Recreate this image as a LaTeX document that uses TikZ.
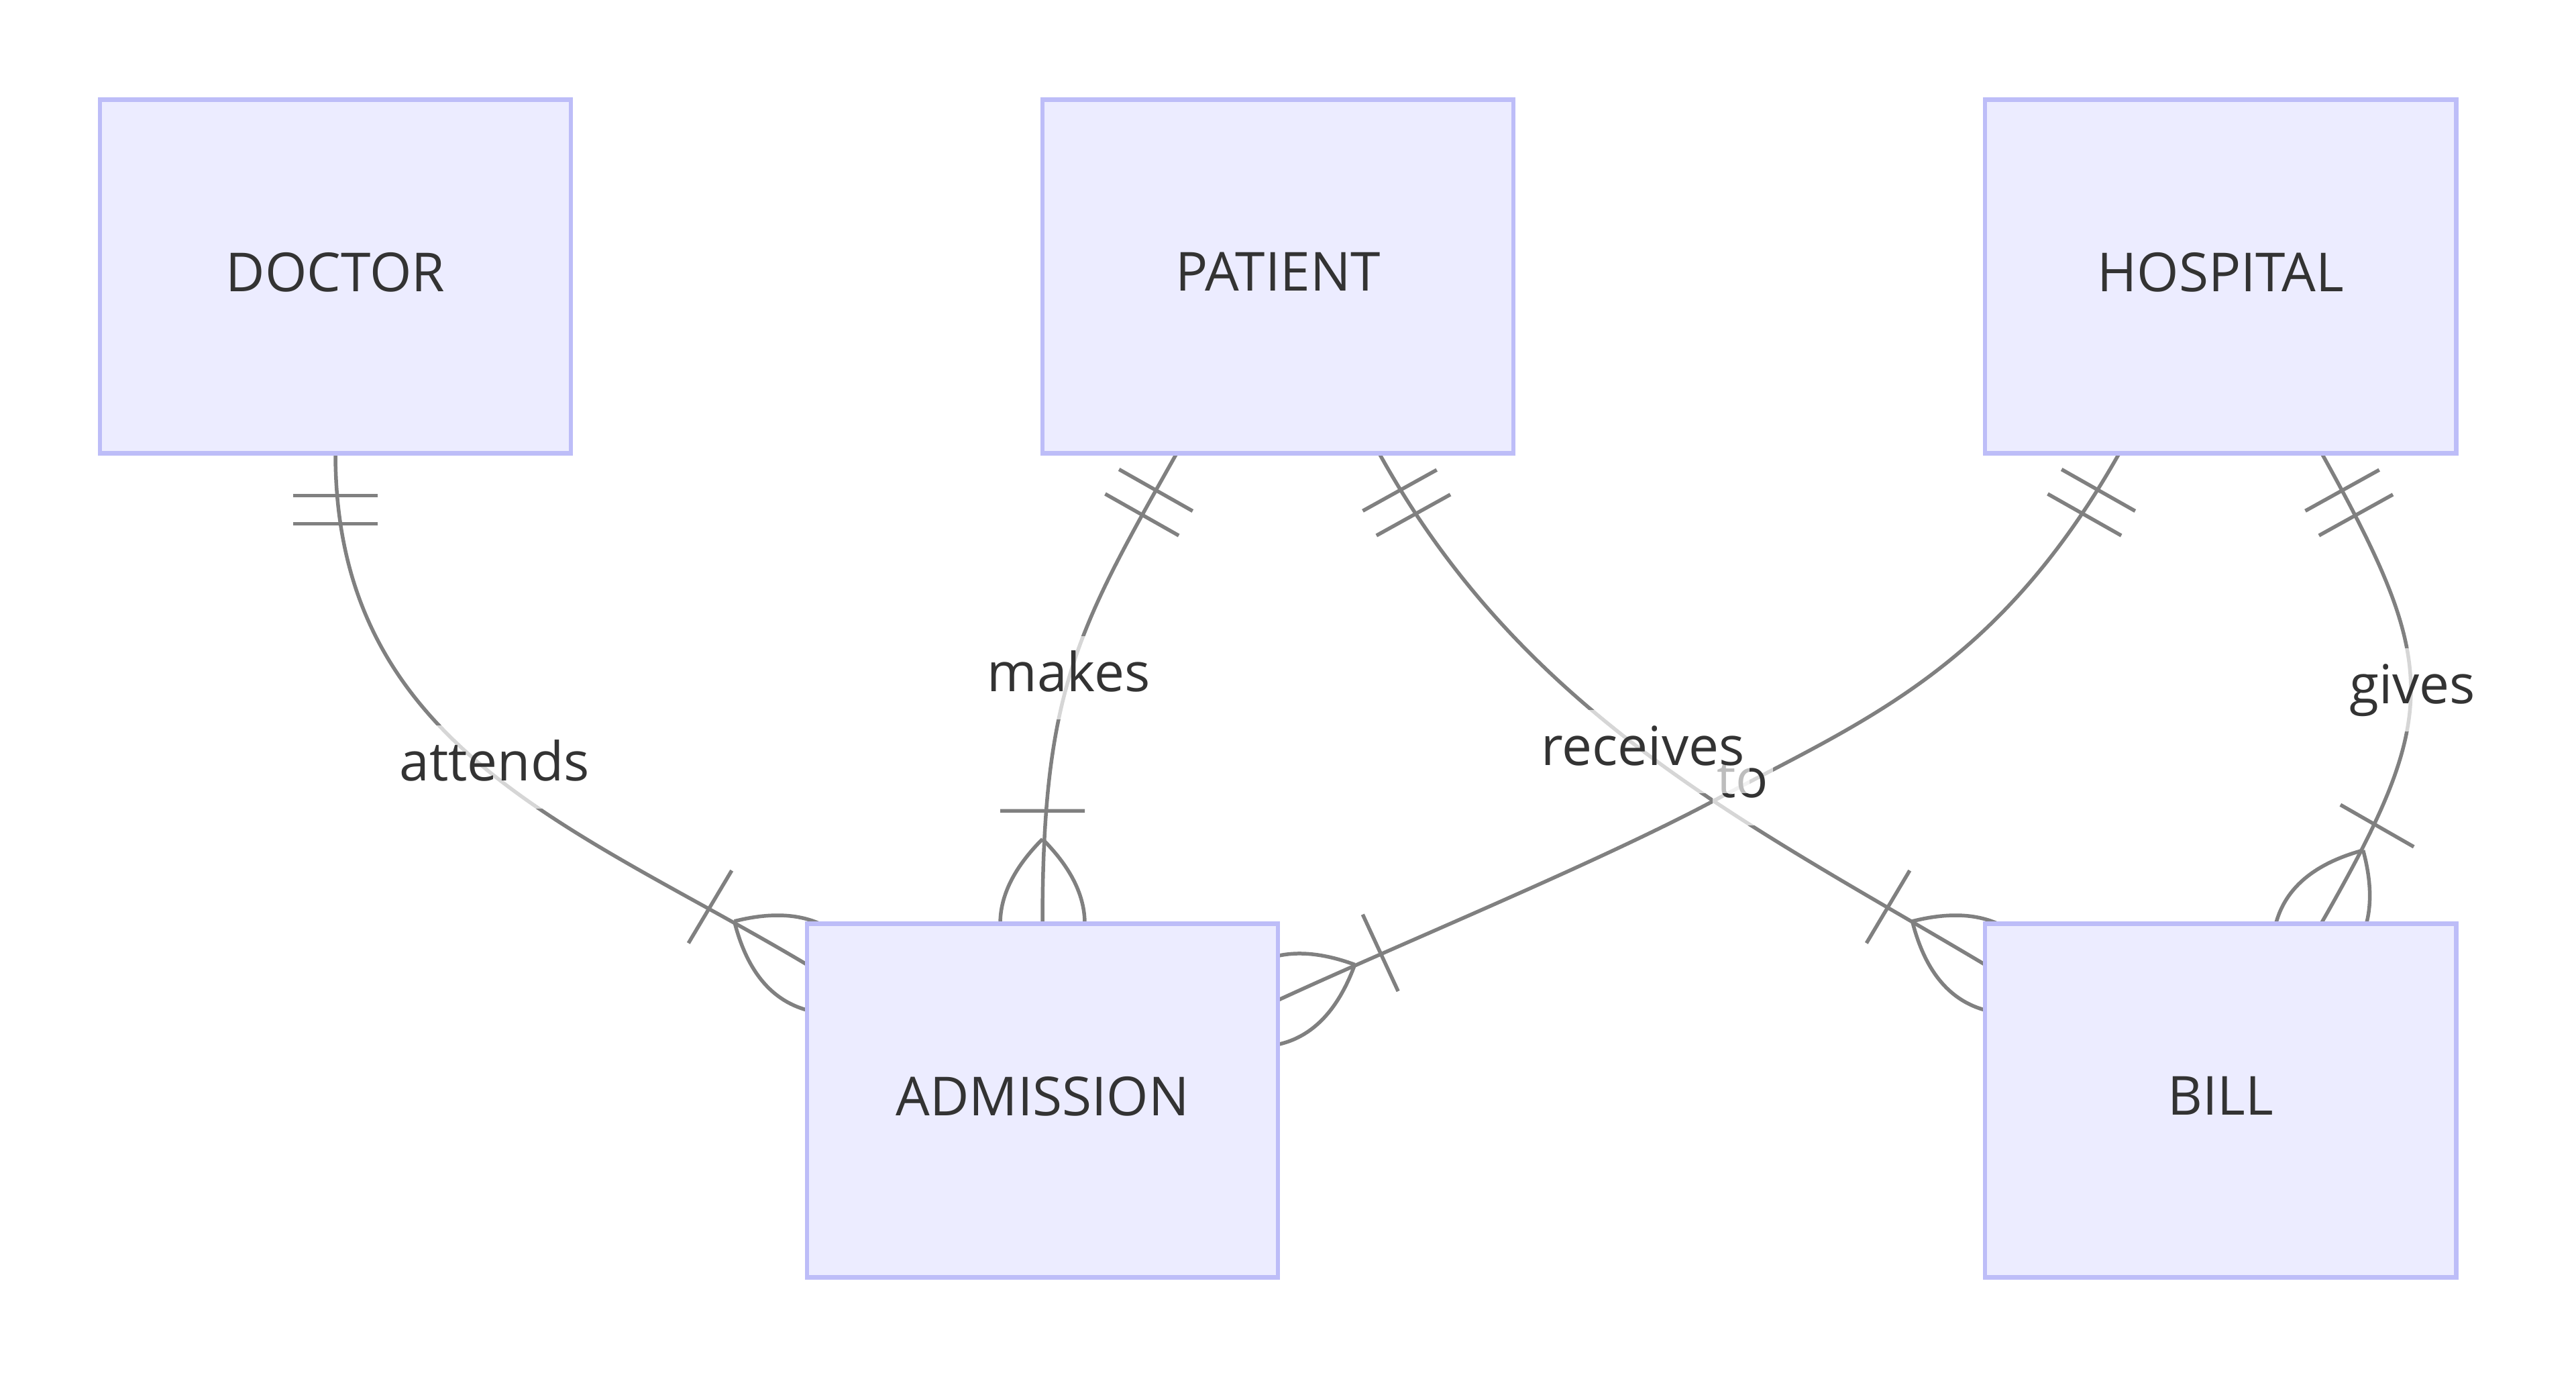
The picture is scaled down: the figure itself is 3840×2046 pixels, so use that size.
\documentclass[tikz,border=0pt]{standalone}
\usepackage{fontspec}
\setmainfont{Open Sans}
\usetikzlibrary{calc}
\definecolor{boxfill}{RGB}{236,236,255}
\definecolor{boxline}{RGB}{189,189,248}
\definecolor{edgecol}{RGB}{128,128,128}
\definecolor{txtcol}{RGB}{51,51,51}
\pgfdeclarelayer{bg}
\pgfsetlayers{bg,main}
\tikzset{
  entity/.style={draw=boxline, fill=boxfill, line width=1.85pt,
    minimum width=7.02cm, minimum height=5.27cm, inner sep=0pt, outer sep=0pt,
    text=txtcol, text depth=4pt, font=\fontsize{22.8pt}{27pt}\selectfont},
  rel/.style={draw=edgecol, line width=1.56pt},
  rlabel/.style={fill=white, fill opacity=0.68, text opacity=1, text=txtcol,
    inner xsep=2pt, inner ysep=0pt, text height=23.3pt, text depth=11.7pt,
    font=\fontsize{22.8pt}{27pt}\selectfont}
}
\newcommand\eronlyone[2]{%
  \begin{scope}[shift={(#1)}, rotate=#2]
    \draw[rel] (63,-63) -- (63,63) (105,-63) -- (105,63);
  \end{scope}}
\newcommand\eronemany[2]{%
  \begin{scope}[shift={(#1)}, rotate=#2]
    \draw[rel] (-168,-63) -- (-168,63)
      (-126,0) .. controls (-42,-84) and (42,-84) .. (126,0)
      (-126,0) .. controls (-42,84) and (42,84) .. (126,0);
  \end{scope}}
\begin{document}
\begin{tikzpicture}[x=0.01cm, y=-0.01cm]
\useasboundingbox (0,0) rectangle (3840,2046);
% entities
\node[entity] (doctor)    at (500,412)   {DOCTOR};
\node[entity] (patient)   at (1905,412)  {PATIENT};
\node[entity] (hospital)  at (3310,412)  {HOSPITAL};
\node[entity] (admission) at (1554,1640) {ADMISSION};
\node[entity] (bill)      at (3310,1640) {BILL};
% connector ends
\coordinate (dA) at (doctor.south);
\coordinate (aD) at ($(admission.north west)+(0,61)$);
\coordinate (pA) at ($(patient.south)+(-151,0)$);
\coordinate (aP) at (admission.north);
\coordinate (pB) at ($(patient.south)+(151,0)$);
\coordinate (bP) at ($(bill.north west)+(0,61)$);
\coordinate (hA) at ($(hospital.south)+(-151,0)$);
\coordinate (aH) at ($(admission.north east)+(0,114)$);
\coordinate (hB) at ($(hospital.south)+(151,0)$);
\coordinate (bH) at ($(bill.north)+(150,0)$);
\begin{pgfonlayer}{bg}
  \fill[white] (0,0) rectangle (3840,2046);
  % attends
  \draw[rel] (dA) .. controls +(0,440) and +(-342,-204) .. (aD);
  \eronlyone{dA}{-90}
  \eronemany{aD}{-30.8}
  % makes
  \draw[rel] (pA) .. controls +(-147,261) and +(0,-350) .. (aP);
  \eronlyone{pA}{-119.5}
  \eronemany{aP}{-90}
  % receives
  \draw[rel] (pB) .. controls +(218,394) and +(-344,-205) .. (bP);
  \eronlyone{pB}{-61}
  \eronemany{bP}{-30.8}
  % to
  \draw[rel] (hA) .. controls +(-182,322) and +(220,-117.5) .. (2557,1192)
                  .. controls +(-176,94) and +(182,-84) .. (aH);
  \eronlyone{hA}{-119.5}
  \eronemany{aH}{-155.2}
  % gives
  \draw[rel] (hB) .. controls +(175.6,316.8) and +(180,-314) .. (bH);
  \eronlyone{hB}{-61}
  \eronemany{bH}{-119.8}
\end{pgfonlayer}
% relationship labels
\node[rlabel] (lattends)  at (737,1143)  {attends};
\node[rlabel] (lmakes)    at (1593,1010) {makes};
\node[rlabel] (lto)       at (2598,1168) {to};
\node[rlabel] (lreceives) at (2449,1120) {receives};
\node[rlabel] (lgives)    at (3596,1028) {gives};
\end{tikzpicture}
\end{document}
